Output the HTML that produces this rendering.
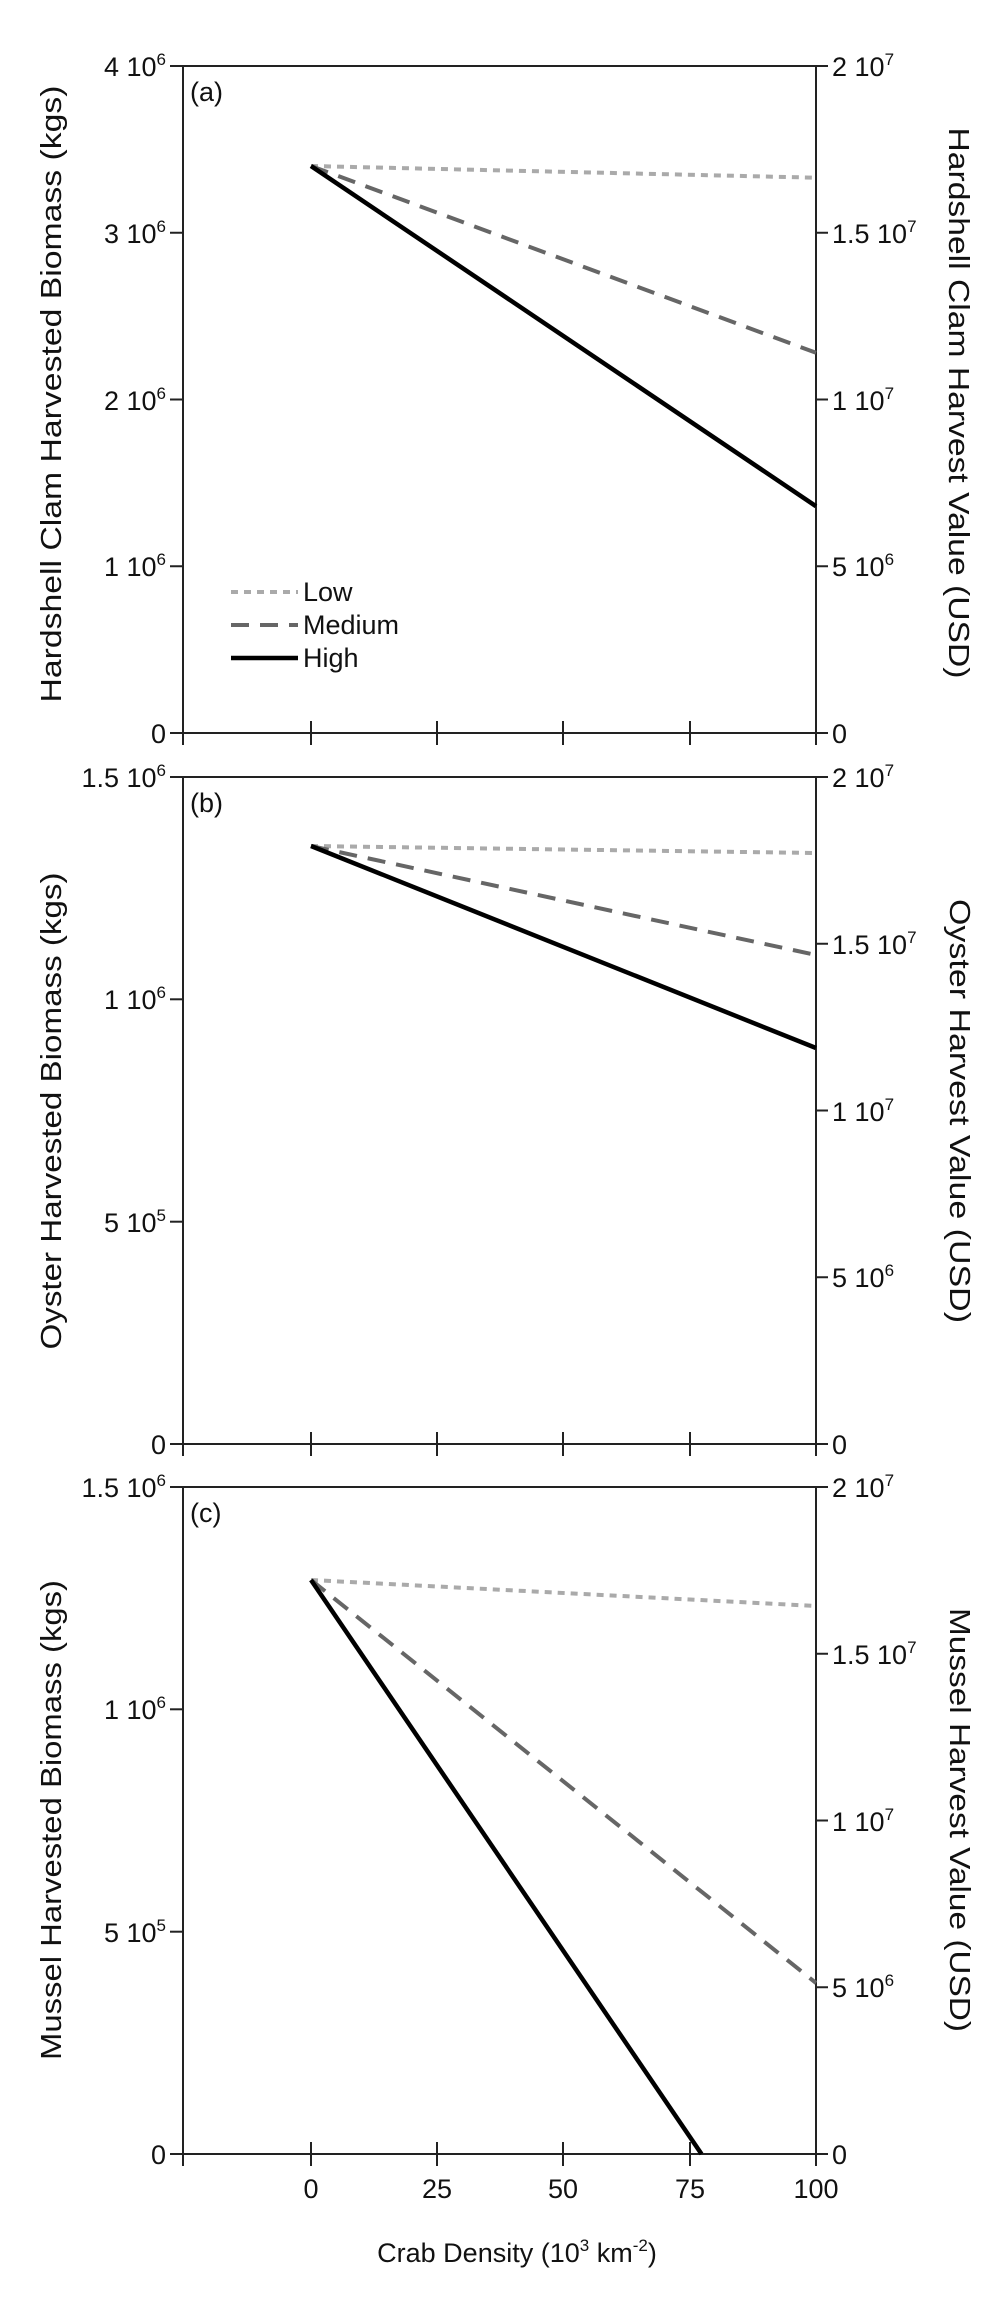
<!DOCTYPE html>
<html><head><meta charset="utf-8"><style>
html,body{margin:0;padding:0;background:#fff;}
svg{display:block;}
text{font-family:"Liberation Sans",sans-serif;fill:#111;}
</style></head><body>
<svg width="1000" height="2301" viewBox="0 0 1000 2301" xmlns="http://www.w3.org/2000/svg">
<g stroke="#222" stroke-width="2" fill="none">
<line x1="170" y1="66" x2="828" y2="66"/>
<line x1="170" y1="733" x2="828" y2="733"/>
<line x1="183" y1="66" x2="183" y2="745"/>
<line x1="816" y1="66" x2="816" y2="745"/>
<line x1="170" y1="232.75" x2="183" y2="232.75"/>
<line x1="170" y1="399.5" x2="183" y2="399.5"/>
<line x1="170" y1="566.25" x2="183" y2="566.25"/>
<line x1="816" y1="232.75" x2="828" y2="232.75"/>
<line x1="816" y1="399.5" x2="828" y2="399.5"/>
<line x1="816" y1="566.25" x2="828" y2="566.25"/>
<line x1="311" y1="721" x2="311" y2="745"/>
<line x1="437" y1="721" x2="437" y2="745"/>
<line x1="563" y1="721" x2="563" y2="745"/>
<line x1="690" y1="721" x2="690" y2="745"/>
<line x1="170" y1="777" x2="828" y2="777"/>
<line x1="170" y1="1444" x2="828" y2="1444"/>
<line x1="183" y1="777" x2="183" y2="1456"/>
<line x1="816" y1="777" x2="816" y2="1456"/>
<line x1="170" y1="999.3" x2="183" y2="999.3"/>
<line x1="170" y1="1221.7" x2="183" y2="1221.7"/>
<line x1="816" y1="943.75" x2="828" y2="943.75"/>
<line x1="816" y1="1110.5" x2="828" y2="1110.5"/>
<line x1="816" y1="1277.25" x2="828" y2="1277.25"/>
<line x1="311" y1="1432" x2="311" y2="1456"/>
<line x1="437" y1="1432" x2="437" y2="1456"/>
<line x1="563" y1="1432" x2="563" y2="1456"/>
<line x1="690" y1="1432" x2="690" y2="1456"/>
<line x1="170" y1="1487" x2="828" y2="1487"/>
<line x1="170" y1="2154" x2="828" y2="2154"/>
<line x1="183" y1="1487" x2="183" y2="2166"/>
<line x1="816" y1="1487" x2="816" y2="2166"/>
<line x1="170" y1="1709.3" x2="183" y2="1709.3"/>
<line x1="170" y1="1931.7" x2="183" y2="1931.7"/>
<line x1="816" y1="1653.75" x2="828" y2="1653.75"/>
<line x1="816" y1="1820.5" x2="828" y2="1820.5"/>
<line x1="816" y1="1987.25" x2="828" y2="1987.25"/>
<line x1="311" y1="2142" x2="311" y2="2166"/>
<line x1="437" y1="2142" x2="437" y2="2166"/>
<line x1="563" y1="2142" x2="563" y2="2166"/>
<line x1="690" y1="2142" x2="690" y2="2166"/>
</g>

<g fill="none" stroke-width="4">
<line x1="311" y1="166" x2="816" y2="177.7" stroke="#aaa" stroke-dasharray="7,6"/>
<line x1="311" y1="166" x2="816" y2="352.8" stroke="#666" stroke-dasharray="18,11"/>
<line x1="311" y1="166" x2="816" y2="506.2" stroke="#000" stroke-width="4.5"/>

<line x1="311" y1="846" x2="816" y2="853" stroke="#aaa" stroke-dasharray="7,6"/>
<line x1="311" y1="846" x2="816" y2="955" stroke="#666" stroke-dasharray="18,11"/>
<line x1="311" y1="846" x2="816" y2="1048" stroke="#000" stroke-width="4.5"/>

<line x1="311" y1="1580" x2="816" y2="1606" stroke="#aaa" stroke-dasharray="7,6"/>
<line x1="311" y1="1580" x2="816" y2="1983" stroke="#666" stroke-dasharray="18,11"/>
<line x1="311" y1="1580" x2="701.5" y2="2154" stroke="#000" stroke-width="4.5"/>

<line x1="231" y1="592" x2="298" y2="592" stroke="#aaa" stroke-dasharray="7,6"/>
<line x1="231" y1="625" x2="298" y2="625" stroke="#666" stroke-dasharray="18,11"/>
<line x1="231" y1="658" x2="298" y2="658" stroke="#000" stroke-width="4.5"/>
</g>
<g font-size="27">
<text x="303" y="601">Low</text>
<text x="303" y="634">Medium</text>
<text x="303" y="667">High</text>
</g>

<g font-size="27">
<text x="190" y="101">(a)</text>
<text x="190" y="812">(b)</text>
<text x="190" y="1522">(c)</text>
</g>

<g font-size="27" text-anchor="end">
<text x="166" y="76">4 10<tspan dy="-11" font-size="17">6</tspan></text>
<text x="166" y="243">3 10<tspan dy="-11" font-size="17">6</tspan></text>
<text x="166" y="410">2 10<tspan dy="-11" font-size="17">6</tspan></text>
<text x="166" y="576">1 10<tspan dy="-11" font-size="17">6</tspan></text>
<text x="166" y="743">0</text>

<text x="166" y="787">1.5 10<tspan dy="-11" font-size="17">6</tspan></text>
<text x="166" y="1009">1 10<tspan dy="-11" font-size="17">6</tspan></text>
<text x="166" y="1232">5 10<tspan dy="-11" font-size="17">5</tspan></text>
<text x="166" y="1454">0</text>

<text x="166" y="1497">1.5 10<tspan dy="-11" font-size="17">6</tspan></text>
<text x="166" y="1719">1 10<tspan dy="-11" font-size="17">6</tspan></text>
<text x="166" y="1942">5 10<tspan dy="-11" font-size="17">5</tspan></text>
<text x="166" y="2164">0</text>
</g>

<g font-size="27">
<text x="832" y="76">2 10<tspan dy="-11" font-size="17">7</tspan></text>
<text x="832" y="243">1.5 10<tspan dy="-11" font-size="17">7</tspan></text>
<text x="832" y="410">1 10<tspan dy="-11" font-size="17">7</tspan></text>
<text x="832" y="576">5 10<tspan dy="-11" font-size="17">6</tspan></text>
<text x="832" y="743">0</text>

<text x="832" y="787">2 10<tspan dy="-11" font-size="17">7</tspan></text>
<text x="832" y="954">1.5 10<tspan dy="-11" font-size="17">7</tspan></text>
<text x="832" y="1121">1 10<tspan dy="-11" font-size="17">7</tspan></text>
<text x="832" y="1287">5 10<tspan dy="-11" font-size="17">6</tspan></text>
<text x="832" y="1454">0</text>

<text x="832" y="1497">2 10<tspan dy="-11" font-size="17">7</tspan></text>
<text x="832" y="1664">1.5 10<tspan dy="-11" font-size="17">7</tspan></text>
<text x="832" y="1831">1 10<tspan dy="-11" font-size="17">7</tspan></text>
<text x="832" y="1997">5 10<tspan dy="-11" font-size="17">6</tspan></text>
<text x="832" y="2164">0</text>
</g>

<g font-size="27" text-anchor="middle">
<text x="311" y="2198">0</text>
<text x="437" y="2198">25</text>
<text x="563" y="2198">50</text>
<text x="690" y="2198">75</text>
<text x="816" y="2198">100</text>
</g>
<text x="517" y="2262" font-size="27" text-anchor="middle">Crab Density (10<tspan dy="-11" font-size="17">3</tspan><tspan dy="11"> km</tspan><tspan dy="-11" font-size="17">-2</tspan><tspan dy="11">)</tspan></text>

<g font-size="29" text-anchor="middle">
<text transform="translate(61,394) rotate(-90)" textLength="617" lengthAdjust="spacingAndGlyphs">Hardshell Clam Harvested Biomass (kgs)</text>
<text transform="translate(61,1111) rotate(-90)" textLength="477" lengthAdjust="spacingAndGlyphs">Oyster Harvested Biomass (kgs)</text>
<text transform="translate(61,1820) rotate(-90)" textLength="480" lengthAdjust="spacingAndGlyphs">Mussel Harvested Biomass (kgs)</text>
<text transform="translate(949,403) rotate(90)" textLength="551" lengthAdjust="spacingAndGlyphs">Hardshell Clam Harvest Value (USD)</text>
<text transform="translate(950,1111) rotate(90)" textLength="424" lengthAdjust="spacingAndGlyphs">Oyster Harvest Value (USD)</text>
<text transform="translate(950,1820) rotate(90)" textLength="424" lengthAdjust="spacingAndGlyphs">Mussel Harvest Value (USD)</text>
</g>
</svg>
</body></html>
